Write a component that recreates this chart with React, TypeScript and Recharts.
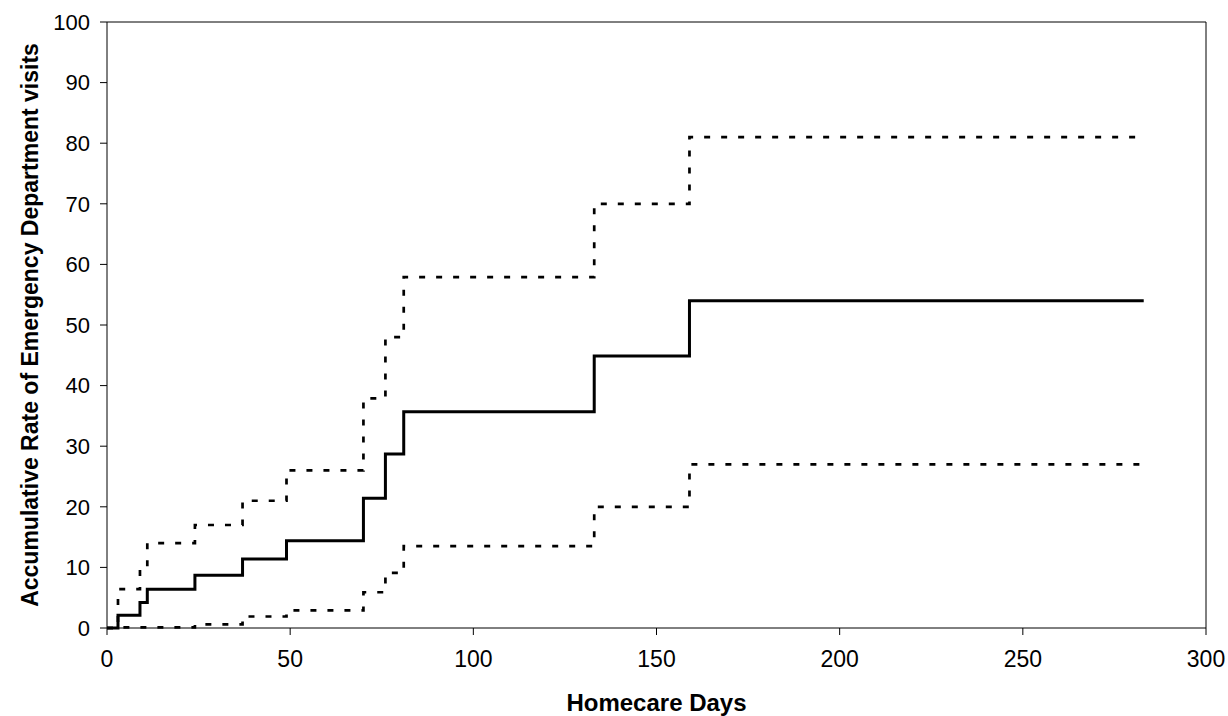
import { LineChart, Line, XAxis, YAxis, ReferenceLine } from 'recharts'

// step points (days since start of homecare)
const days = [0, 3, 9, 11, 24, 37, 49, 70, 76, 81, 133, 159, 283]
const rateMean = [0, 2.1, 4.2, 6.4, 8.7, 11.4, 14.4, 21.4, 28.7, 35.7, 44.9, 54.0, 54.0]
const rateUpper = [0, 6.4, 10.0, 14.0, 17.0, 21.0, 26.0, 37.9, 48.0, 57.9, 70.0, 81.0, 81.0]
const rateLower = [0, 0.1, 0.1, 0.1, 0.6, 1.9, 2.9, 5.9, 9.1, 13.5, 20.0, 27.0, 27.0]

const xTicks = [0, 50, 100, 150, 200, 250, 300]
const yTicks = [0, 10, 20, 30, 40, 50, 60, 70, 80, 90, 100]

const data = days.map((day, i) => ({
  day,
  mean: rateMean[i],
  upper: rateUpper[i],
  lower: rateLower[i],
}))

const FONT = '"Liberation Sans", Arial, Helvetica, sans-serif'

export default function App() {
  return (
    <div style={{ position: 'absolute', left: 0, top: 0, background: '#fff' }}>
      <LineChart
        width={1228}
        height={716}
        data={data}
        margin={{ top: 22, right: 22, bottom: 0, left: 0 }}
      >
        <XAxis
          dataKey="day"
          type="number"
          domain={[0, 300]}
          ticks={xTicks}
          allowDataOverflow
          height={88}
          stroke="#000"
          tickSize={7}
          tickMargin={16}
          tick={{ fill: '#000', fontSize: 23, fontFamily: FONT }}
          label={{
            content: ({ viewBox }: any) => (
              <text
                x={viewBox.x + viewBox.width / 2}
                y={viewBox.y + 83}
                textAnchor="middle"
                fontFamily={FONT}
                fontSize={24}
                fontWeight="bold"
                fill="#000"
              >
                Homecare Days
              </text>
            ),
          }}
        />
        <YAxis
          type="number"
          domain={[0, 100]}
          ticks={yTicks}
          width={107}
          stroke="#000"
          tickSize={7}
          tickMargin={10}
          tick={{ fill: '#000', fontSize: 22, fontFamily: FONT }}
          label={{
            content: ({ viewBox }: any) => {
              const cx = 38
              const cy = viewBox.y + viewBox.height / 2
              return (
                <text
                  x={cx}
                  y={cy}
                  transform={`rotate(-90, ${cx}, ${cy})`}
                  textAnchor="middle"
                  fontFamily={FONT}
                  fontSize={23}
                  fontWeight="bold"
                  fill="#000"
                >
                  Accumulative Rate of Emergency Department visits
                </text>
              )
            },
          }}
        />
        {/* box frame on top and right */}
        <ReferenceLine y={100} stroke="#000" strokeWidth={1} />
        <ReferenceLine x={300} stroke="#000" strokeWidth={1} />
        <Line
          dataKey="upper"
          type="stepAfter"
          stroke="#000"
          strokeWidth={2.7}
          strokeDasharray="6 11"
          dot={false}
          isAnimationActive={false}
        />
        <Line
          dataKey="lower"
          type="stepAfter"
          stroke="#000"
          strokeWidth={2.7}
          strokeDasharray="6 11"
          dot={false}
          isAnimationActive={false}
        />
        <Line
          dataKey="mean"
          type="stepAfter"
          stroke="#000"
          strokeWidth={3}
          dot={false}
          isAnimationActive={false}
        />
      </LineChart>
    </div>
  )
}
